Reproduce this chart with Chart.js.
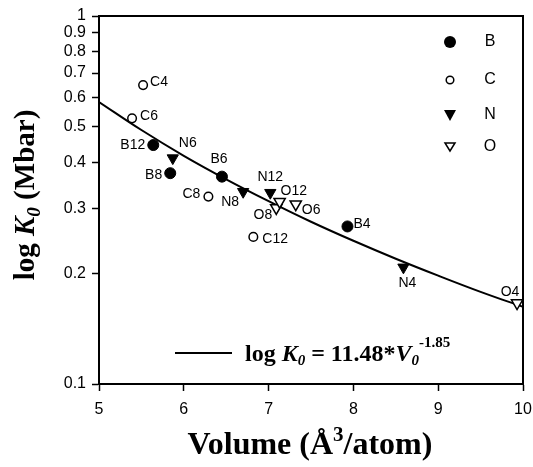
<!DOCTYPE html>
<html>
<head>
<meta charset="utf-8">
<script src="https://cdn.jsdelivr.net/npm/chart.js@4/dist/chart.umd.min.js"></script>
<style>
  html, body { margin: 0; padding: 0; background: #fff; }
  #wrap { width: 533px; height: 467px; }
</style>
</head>
<body>
<div id="wrap"><canvas id="myChart" width="533" height="467"></canvas></div>
<script>
// data
const bNames = ['B12', 'B8', 'B6', 'B4'];
const bVol = [5.64, 5.84, 6.45, 7.93];
const bK0 = [0.446, 0.374, 0.366, 0.268];

const cNames = ['C4', 'C6', 'C8', 'C12'];
const cVol = [5.52, 5.39, 6.29, 6.82];
const cK0 = [0.649, 0.527, 0.323, 0.251];

const nNames = ['N6', 'N8', 'N12', 'N4'];
const nVol = [5.87, 6.70, 7.02, 8.59];
const nK0 = [0.411, 0.333, 0.331, 0.2075];

const oNames = ['O8', 'O12', 'O6', 'O4'];
const oVol = [7.09, 7.13, 7.32, 9.93];
const oK0 = [0.301, 0.313, 0.308, 0.166];

// fitted curve
const fitVol = [5, 5.5, 6, 6.5, 7, 7.5, 8, 8.5, 9, 9.5, 10];
const fitK0 = [0.584, 0.490, 0.417, 0.360, 0.314, 0.276, 0.245, 0.219, 0.197, 0.178, 0.162];

const xTicks = [5, 6, 7, 8, 9, 10];
const yTicks = [0.1, 0.2, 0.3, 0.4, 0.5, 0.6, 0.7, 0.8, 0.9, 1];
const legendNames = ['B', 'C', 'N', 'O'];

// where each point label sits relative to its point
const labelPos = {
    C4: [7, -3, 'left'], C6: [8, -2, 'left'], B12: [-8, 0, 'right'], N6: [15, -15, 'center'],
    B8: [-8, 2, 'right'], B6: [-3, -17, 'center'], C8: [-8, -2, 'right'], N8: [-4, 10, 'right'],
    N12: [0, -16, 'center'], O8: [-4, 7, 'right'], C12: [9, 2, 'left'], O12: [1, -10, 'left'],
    O6: [6, 6, 'left'], B4: [6, -2, 'left'], N4: [4, 16, 'center'], O4: [-7, -11, 'center']
};

function pts(xs, ys) {
    return xs.map((x, i) => ({ x: x, y: ys[i] }));
}

function drawRich(ctx, x, y, segs, align) {
    let w = 0;
    segs.forEach(s => { ctx.font = s.font; w += ctx.measureText(s.t).width; });
    let cx = align === 'center' ? x - w / 2 : x;
    ctx.textAlign = 'left';
    ctx.textBaseline = 'alphabetic';
    segs.forEach(s => {
        ctx.font = s.font;
        ctx.fillText(s.t, cx, y + (s.dy || 0));
        cx += ctx.measureText(s.t).width;
    });
}

const serif = '"Liberation Serif", "Times New Roman", serif';

const extras = {
    id: 'extras',
    afterDraw(chart) {
        const ctx = chart.ctx;
        const a = chart.chartArea;
        ctx.save();
        ctx.fillStyle = '#000';
        ctx.strokeStyle = '#000';

        // frame
        ctx.lineWidth = 2;
        ctx.strokeRect(a.left, a.top, a.right - a.left, a.bottom - a.top);

        // point labels
        ctx.font = '14px "Liberation Sans", Arial, sans-serif';
        ctx.textBaseline = 'middle';
        chart.data.datasets.forEach((ds, di) => {
            if (!ds.names) return;
            const meta = chart.getDatasetMeta(di);
            meta.data.forEach((el, i) => {
                const p = labelPos[ds.names[i]];
                ctx.textAlign = p[2];
                ctx.fillText(ds.names[i], el.x + p[0], el.y + p[1]);
            });
        });

        // legend of elements
        const lx = 450, tx = 490;
        const ly = [42, 80, 115, 147];
        ctx.lineWidth = 1.5;
        ctx.beginPath(); ctx.arc(lx, ly[0], 6, 0, Math.PI * 2); ctx.fill();
        ctx.beginPath(); ctx.arc(lx, ly[1], 3.8, 0, Math.PI * 2); ctx.stroke();
        ctx.beginPath(); ctx.moveTo(lx - 6, ly[2] - 5); ctx.lineTo(lx + 6, ly[2] - 5); ctx.lineTo(lx, ly[2] + 6); ctx.closePath(); ctx.fill();
        ctx.beginPath(); ctx.moveTo(lx - 5, ly[3] - 4); ctx.lineTo(lx + 5, ly[3] - 4); ctx.lineTo(lx, ly[3] + 4); ctx.closePath(); ctx.stroke();
        ctx.font = '16px "Liberation Sans", Arial, sans-serif';
        ctx.textAlign = 'center';
        ctx.textBaseline = 'middle';
        legendNames.forEach((n, i) => ctx.fillText(n, tx, ly[i]));

        // fit legend
        ctx.lineWidth = 2;
        ctx.beginPath(); ctx.moveTo(175, 353); ctx.lineTo(232, 353); ctx.stroke();
        const tb = 'bold 24px ' + serif;
        const tbi = 'bold italic 24px ' + serif;
        const sbi = 'bold italic 15px ' + serif;
        const sb = 'bold 15px ' + serif;
        drawRich(ctx, 245, 361, [
            { t: 'log ', font: tb }, { t: 'K', font: tbi }, { t: '0', font: sbi, dy: 4 },
            { t: ' = 11.48*', font: tb }, { t: 'V', font: tbi }, { t: '0', font: sbi, dy: 4 },
            { t: '-1.85', font: sb, dy: -14 }
        ], 'left');

        // axis titles
        drawRich(ctx, 310, 454, [
            { t: 'Volume (Å', font: 'bold 32px ' + serif },
            { t: '3', font: 'bold 21px ' + serif, dy: -13 },
            { t: '/atom)', font: 'bold 32px ' + serif }
        ], 'center');

        ctx.translate(34, 195);
        ctx.rotate(-Math.PI / 2);
        drawRich(ctx, 0, 0, [
            { t: 'log ', font: 'bold 29px ' + serif },
            { t: 'K', font: 'bold italic 29px ' + serif },
            { t: '0', font: 'bold italic 19px ' + serif, dy: 6 },
            { t: ' (Mbar)', font: 'bold 29px ' + serif }
        ], 'center');

        ctx.restore();
    }
};

const ctx = document.getElementById('myChart').getContext('2d');
const chart = new Chart(ctx, {
    type: 'scatter',
    data: {
        datasets: [
            {
                label: 'fit', type: 'line', data: pts(fitVol, fitK0),
                borderColor: '#000', borderWidth: 2, pointRadius: 0, tension: 0.4,
                fill: false, order: 5
            },
            {
                label: 'B', names: bNames, data: pts(bVol, bK0),
                pointStyle: 'circle', pointRadius: 5.5, backgroundColor: '#000', borderColor: '#000', borderWidth: 1
            },
            {
                label: 'C', names: cNames, data: pts(cVol, cK0),
                pointStyle: 'circle', pointRadius: 4.3, backgroundColor: '#fff', borderColor: '#000', borderWidth: 1.5
            },
            {
                label: 'N', names: nNames, data: pts(nVol, nK0),
                pointStyle: 'triangle', pointRotation: 180, pointRadius: 6.5, backgroundColor: '#000', borderColor: '#000', borderWidth: 1
            },
            {
                label: 'O', names: oNames, data: pts(oVol, oK0),
                pointStyle: 'triangle', pointRotation: 180, pointRadius: 6.5, backgroundColor: '#fff', borderColor: '#000', borderWidth: 1.5
            }
        ]
    },
    options: {
        responsive: false,
        animation: false,
        layout: { padding: { top: 16, right: 10, left: 0, bottom: 0 } },
        plugins: { legend: { display: false }, tooltip: { enabled: false } },
        scales: {
            x: {
                type: 'linear', min: 5, max: 10,
                afterFit: (s) => { s.height = 83; s.paddingLeft = 0; s.paddingRight = 0; },
                afterBuildTicks: (s) => { s.ticks = xTicks.map(v => ({ value: v })); },
                grid: { drawOnChartArea: false, tickLength: 7, tickColor: '#000', tickWidth: 1.5 },
                border: { color: '#000', width: 2 },
                ticks: {
                    color: '#000', padding: 9,
                    font: { family: '"Liberation Sans", Arial, sans-serif', size: 16 }
                }
            },
            y: {
                type: 'logarithmic', min: 0.1, max: 1,
                afterFit: (s) => { s.width = 99; s.paddingTop = 0; s.paddingBottom = 0; },
                afterBuildTicks: (s) => { s.ticks = yTicks.map(v => ({ value: v })); },
                grid: { drawOnChartArea: false, tickLength: 7, tickColor: '#000', tickWidth: 1.5 },
                border: { color: '#000', width: 2 },
                ticks: {
                    color: '#000', padding: 6,
                    font: { family: '"Liberation Sans", Arial, sans-serif', size: 16 },
                    callback: (v) => String(v)
                }
            }
        }
    },
    plugins: [extras]
});
</script>
</body>
</html>
